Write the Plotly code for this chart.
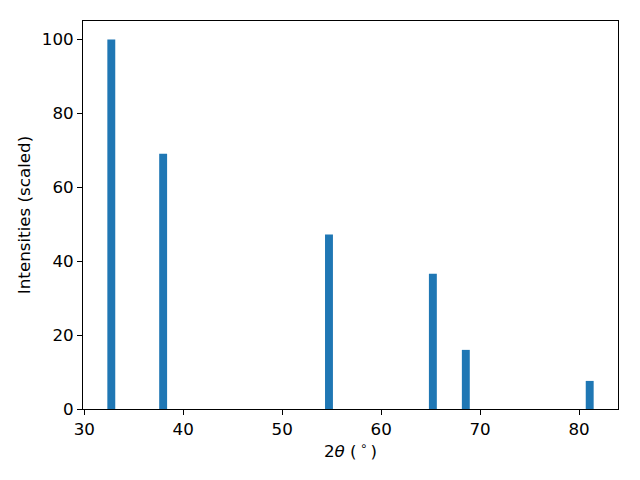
import plotly.graph_objects as go

two_theta = [32.73, 37.97, 54.73, 65.23, 68.56, 81.08]
intensity = [100, 69.1, 47.2, 36.6, 16.0, 7.6]
x_ticks = [30, 40, 50, 60, 70, 80]
y_ticks = [0, 20, 40, 60, 80, 100]

fig = go.Figure(go.Bar(x=two_theta, y=intensity, width=0.8,
                       marker=dict(color="#1f77b4", line=dict(width=0))))

axis_common = dict(showline=True, linecolor="black", linewidth=1, mirror=True,
                   ticks="outside", ticklen=5, tickcolor="black", tickwidth=1,
                   showgrid=False, zeroline=False, automargin=False,
                   tickfont=dict(size=16.7, color="black"))

fig.update_layout(
    width=640, height=480,
    margin=dict(l=75, r=30, t=13, b=79),
    plot_bgcolor="white", paper_bgcolor="white",
    font=dict(family="DejaVu Sans", size=16.7, color="black"),
    showlegend=False,
    xaxis=dict(range=[29.87, 83.94], tickvals=x_ticks,
               title=dict(text="2<i>θ</i> (\u2009<sup>∘</sup>\u2009)", standoff=6,
                          font=dict(size=16.7)), **axis_common),
    yaxis=dict(range=[0, 105], tickvals=y_ticks,
               title=dict(text="Intensities (scaled)", standoff=6,
                          font=dict(size=16.7)), **axis_common),
)

fig.write_html("out.html")
